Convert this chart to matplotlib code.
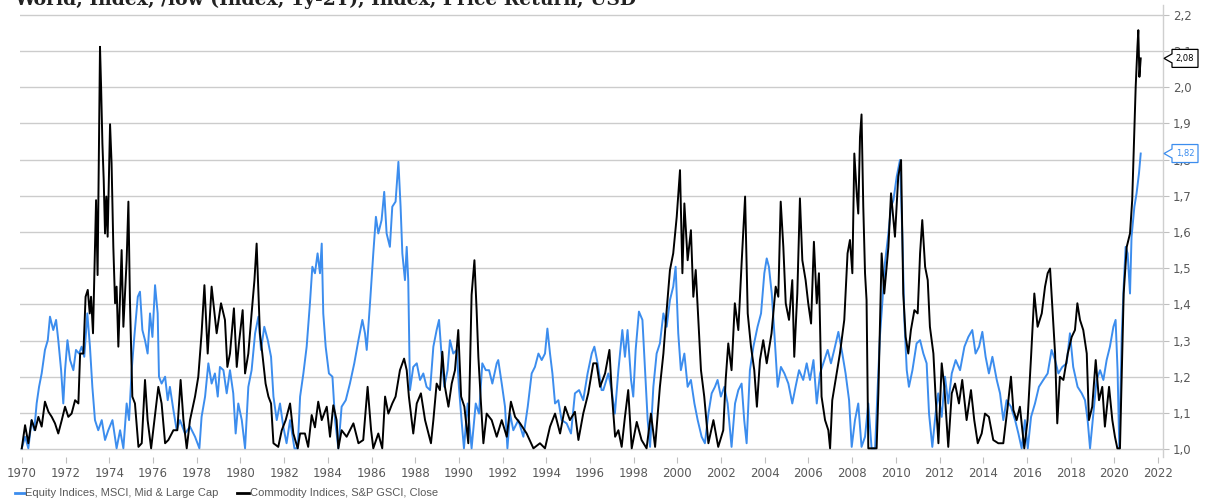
import matplotlib
matplotlib.use("Agg")
import matplotlib.pyplot as plt
from matplotlib.patches import Polygon
from matplotlib.lines import Line2D
import matplotlib.transforms as mtransforms

title = "World, Index, /low (Index, 1y-2Y), Index, Price Return, USD"
series_names = ["Equity Indices, MSCI, Mid & Large Cap", "Commodity Indices, S&P GSCI, Close"]

commodity_years = [
    1969.99, 1970.14, 1970.29, 1970.44, 1970.60, 1970.75, 1970.90, 1971.05, 1971.21, 1971.36,
    1971.51, 1971.66, 1971.82, 1971.97, 1972.12, 1972.27, 1972.43, 1972.58, 1972.66, 1972.81,
    1972.91, 1973.01, 1973.10, 1973.16, 1973.25, 1973.39, 1973.46, 1973.57, 1973.62, 1973.68,
    1973.74, 1973.80, 1973.86, 1973.92, 1974.03, 1974.10, 1974.18, 1974.26, 1974.33, 1974.41,
    1974.56, 1974.64, 1974.79, 1974.87, 1974.94, 1975.05, 1975.17, 1975.33, 1975.48, 1975.63,
    1975.75, 1975.91, 1976.09, 1976.24, 1976.39, 1976.55, 1976.70, 1976.93, 1977.11, 1977.26,
    1977.39, 1977.54, 1977.69, 1977.92, 1978.07, 1978.22, 1978.35, 1978.50, 1978.68, 1978.91,
    1979.11, 1979.29, 1979.40, 1979.52, 1979.70, 1979.83, 1979.93, 1980.10, 1980.21, 1980.36,
    1980.51, 1980.64, 1980.74, 1980.89, 1981.00, 1981.15, 1981.28, 1981.40, 1981.51, 1981.73,
    1981.89, 1982.07, 1982.27, 1982.42, 1982.62, 1982.73, 1982.95, 1983.10, 1983.26, 1983.41,
    1983.56, 1983.72, 1983.95, 1984.10, 1984.25, 1984.40, 1984.48, 1984.63, 1984.86, 1985.17,
    1985.40, 1985.62, 1985.82, 1985.98, 1986.08, 1986.31, 1986.49, 1986.62, 1986.77, 1986.95,
    1987.10, 1987.30, 1987.49, 1987.61, 1987.71, 1987.91, 1988.07, 1988.26, 1988.45, 1988.72,
    1988.83, 1988.98, 1989.13, 1989.24, 1989.36, 1989.52, 1989.67, 1989.82, 1989.97, 1990.10,
    1990.25, 1990.43, 1990.58, 1990.71, 1990.81, 1990.89, 1991.01, 1991.12, 1991.27, 1991.50,
    1991.73, 1991.96, 1992.19, 1992.38, 1992.57, 1992.80, 1993.10, 1993.41, 1993.71, 1993.94,
    1994.17, 1994.40, 1994.63, 1994.86, 1995.08, 1995.31, 1995.47, 1995.69, 1995.92, 1996.15,
    1996.30, 1996.46, 1996.69, 1996.89, 1997.00, 1997.15, 1997.30, 1997.45, 1997.60, 1997.75,
    1997.91, 1998.14, 1998.36, 1998.59, 1998.79, 1998.98, 1999.20, 1999.36, 1999.51, 1999.66,
    1999.81, 1999.97, 2000.12, 2000.23, 2000.32, 2000.47, 2000.62, 2000.73, 2000.84, 2000.96,
    2001.08, 2001.23, 2001.42, 2001.65, 2001.87, 2002.10, 2002.21, 2002.33, 2002.48, 2002.63,
    2002.79, 2002.94, 2003.10, 2003.22, 2003.37, 2003.52, 2003.64, 2003.78, 2003.93, 2004.09,
    2004.31, 2004.50, 2004.62, 2004.73, 2004.85, 2004.96, 2005.11, 2005.26, 2005.35, 2005.49,
    2005.61, 2005.72, 2005.87, 2005.99, 2006.12, 2006.25, 2006.38, 2006.48, 2006.60, 2006.76,
    2006.91, 2006.99, 2007.09, 2007.24, 2007.44, 2007.64, 2007.79, 2007.90, 2008.01, 2008.10,
    2008.21, 2008.28, 2008.36, 2008.43, 2008.51, 2008.59, 2008.66, 2008.74, 2008.97, 2009.12,
    2009.20, 2009.35, 2009.47, 2009.66, 2009.78, 2009.96, 2010.11, 2010.24, 2010.34, 2010.45,
    2010.57, 2010.69, 2010.85, 2011.00, 2011.11, 2011.21, 2011.34, 2011.46, 2011.56, 2011.72,
    2011.82, 2011.95, 2012.10, 2012.22, 2012.40, 2012.56, 2012.71, 2012.89, 2013.04, 2013.24,
    2013.44, 2013.59, 2013.75, 2013.93, 2014.08, 2014.26, 2014.46, 2014.69, 2014.92, 2015.12,
    2015.27, 2015.38, 2015.53, 2015.68, 2015.88, 2016.03, 2016.19, 2016.34, 2016.49, 2016.68,
    2016.83, 2016.95, 2017.06, 2017.18, 2017.29, 2017.39, 2017.51, 2017.67, 2017.87, 2018.05,
    2018.20, 2018.31, 2018.43, 2018.58, 2018.74, 2018.84, 2018.99, 2019.15, 2019.30, 2019.45,
    2019.57, 2019.76, 2019.91, 2020.03, 2020.14, 2020.26, 2020.34, 2020.43, 2020.57, 2020.72,
    2020.82, 2020.92, 2020.98, 2021.06, 2021.10, 2021.15, 2021.21,
]
commodity_values = [
    1.002, 1.066, 1.016, 1.080, 1.052, 1.089, 1.062, 1.131, 1.103, 1.089,
    1.071, 1.043, 1.080, 1.117, 1.089, 1.098, 1.135, 1.126, 1.264, 1.264,
    1.421, 1.440, 1.375, 1.421, 1.320, 1.688, 1.481, 2.112, 2.002, 1.845,
    1.744, 1.596, 1.698, 1.587, 1.898, 1.790, 1.559, 1.403, 1.449, 1.283,
    1.550, 1.338, 1.522, 1.684, 1.412, 1.145, 1.126, 1.006, 1.016, 1.191,
    1.080, 1.002, 1.094, 1.172, 1.126, 1.016, 1.025, 1.052, 1.052, 1.191,
    1.080, 1.002, 1.080, 1.145, 1.200, 1.320, 1.453, 1.264, 1.449, 1.320,
    1.403, 1.357, 1.227, 1.264, 1.389, 1.227, 1.292, 1.384, 1.209, 1.264,
    1.375, 1.467, 1.568, 1.320, 1.264, 1.181, 1.145, 1.126, 1.016, 1.006,
    1.052, 1.080, 1.126, 1.043, 1.002, 1.043, 1.043, 1.006, 1.094, 1.060,
    1.131, 1.080, 1.117, 1.034, 1.121, 1.080, 1.002, 1.052, 1.034, 1.071,
    1.016, 1.025, 1.172, 1.052, 1.002, 1.043, 1.002, 1.145, 1.098, 1.126,
    1.145, 1.218, 1.250, 1.218, 1.145, 1.043, 1.126, 1.154, 1.080, 1.016,
    1.080, 1.181, 1.163, 1.269, 1.172, 1.117, 1.181, 1.218, 1.329, 1.145,
    1.117, 1.016, 1.426, 1.522, 1.384, 1.255, 1.126, 1.016, 1.098, 1.080,
    1.034, 1.080, 1.034, 1.131, 1.089, 1.071, 1.043, 1.002, 1.016, 1.002,
    1.062, 1.098, 1.043, 1.117, 1.080, 1.103, 1.025, 1.098, 1.154, 1.237,
    1.237, 1.172, 1.209, 1.274, 1.154, 1.034, 1.052, 1.006, 1.089, 1.163,
    1.002, 1.075, 1.025, 1.002, 1.098, 1.006, 1.172, 1.264, 1.384, 1.495,
    1.541, 1.642, 1.771, 1.486, 1.679, 1.522, 1.605, 1.421, 1.495, 1.357,
    1.218, 1.145, 1.016, 1.080, 1.006, 1.052, 1.191, 1.292, 1.218, 1.403,
    1.329, 1.513, 1.698, 1.375, 1.283, 1.218, 1.117, 1.246, 1.301, 1.237,
    1.320, 1.449, 1.421, 1.684, 1.559, 1.403, 1.357, 1.467, 1.255, 1.430,
    1.693, 1.522, 1.467, 1.403, 1.347, 1.573, 1.403, 1.486, 1.145, 1.080,
    1.052, 1.002, 1.135, 1.191, 1.264, 1.357, 1.541, 1.578, 1.486, 1.817,
    1.707, 1.651, 1.863, 1.925, 1.670, 1.486, 1.412, 1.002, 1.002, 1.002,
    1.154, 1.541, 1.430, 1.559, 1.707, 1.587, 1.753, 1.799, 1.430, 1.310,
    1.264, 1.329, 1.384, 1.375, 1.541, 1.633, 1.504, 1.467, 1.338, 1.264,
    1.145, 1.016, 1.237, 1.172, 1.006, 1.154, 1.181, 1.126, 1.191, 1.080,
    1.163, 1.080, 1.016, 1.043, 1.098, 1.089, 1.025, 1.016, 1.016, 1.117,
    1.200, 1.108, 1.080, 1.117, 1.002, 1.080, 1.255, 1.430, 1.338, 1.375,
    1.449, 1.486, 1.499, 1.375, 1.264, 1.071, 1.200, 1.191, 1.264, 1.310,
    1.329, 1.403, 1.357, 1.329, 1.264, 1.080, 1.117, 1.246, 1.135, 1.172,
    1.062, 1.172, 1.080, 1.034, 1.002, 1.002, 1.209, 1.430, 1.559, 1.596,
    1.688, 1.882, 2.002, 2.112, 2.158, 2.029, 2.080,
]

equity_years = [
    1969.99, 1970.14, 1970.29, 1970.44, 1970.56, 1970.67, 1970.78, 1970.90, 1971.05, 1971.18,
    1971.28, 1971.43, 1971.56, 1971.66, 1971.79, 1971.89, 1971.97, 1972.08, 1972.20, 1972.35,
    1972.47, 1972.61, 1972.73, 1972.85, 1972.99, 1973.11, 1973.22, 1973.34, 1973.49, 1973.65,
    1973.80, 1973.95, 1974.14, 1974.33, 1974.49, 1974.64, 1974.79, 1974.90, 1975.02, 1975.14,
    1975.30, 1975.40, 1975.51, 1975.63, 1975.75, 1975.86, 1975.97, 1976.09, 1976.21, 1976.27,
    1976.39, 1976.55, 1976.67, 1976.77, 1976.93, 1977.08, 1977.23, 1977.46, 1977.69, 1977.92,
    1978.12, 1978.22, 1978.38, 1978.53, 1978.68, 1978.83, 1978.96, 1979.06, 1979.22, 1979.37,
    1979.52, 1979.67, 1979.78, 1979.90, 1980.06, 1980.21, 1980.36, 1980.51, 1980.67, 1980.82,
    1980.94, 1981.09, 1981.25, 1981.40, 1981.51, 1981.66, 1981.81, 1981.96, 1982.11, 1982.27,
    1982.47, 1982.62, 1982.73, 1982.88, 1983.03, 1983.18, 1983.29, 1983.41, 1983.53, 1983.64,
    1983.72, 1983.79, 1983.90, 1984.05, 1984.21, 1984.33, 1984.48, 1984.63, 1984.82, 1985.01,
    1985.21, 1985.40, 1985.58, 1985.70, 1985.78, 1985.93, 1986.08, 1986.20, 1986.31, 1986.46,
    1986.58, 1986.69, 1986.84, 1986.95, 1987.10, 1987.23, 1987.33, 1987.41, 1987.53, 1987.61,
    1987.68, 1987.76, 1987.91, 1988.07, 1988.22, 1988.37, 1988.52, 1988.68, 1988.83, 1988.98,
    1989.09, 1989.21, 1989.33, 1989.48, 1989.59, 1989.74, 1989.90, 1990.00, 1990.12, 1990.23,
    1990.40, 1990.58, 1990.77, 1990.92, 1991.07, 1991.23, 1991.38, 1991.53, 1991.73, 1991.80,
    1991.96, 1992.11, 1992.22, 1992.34, 1992.49, 1992.72, 1992.95, 1993.15, 1993.33, 1993.48,
    1993.64, 1993.79, 1993.94, 1994.05, 1994.17, 1994.28, 1994.40, 1994.55, 1994.70, 1994.93,
    1995.13, 1995.31, 1995.50, 1995.69, 1995.89, 1996.08, 1996.20, 1996.35, 1996.53, 1996.61,
    1996.84, 1996.99, 1997.14, 1997.30, 1997.48, 1997.60, 1997.72, 1997.88, 1997.98, 1998.09,
    1998.24, 1998.40, 1998.52, 1998.64, 1998.75, 1998.90, 1999.05, 1999.20, 1999.36, 1999.51,
    1999.66, 1999.81, 1999.92, 2000.04, 2000.16, 2000.32, 2000.47, 2000.62, 2000.78, 2000.93,
    2001.11, 2001.26, 2001.42, 2001.57, 2001.72, 2001.84, 2001.99, 2002.15, 2002.30, 2002.48,
    2002.64, 2002.79, 2002.94, 2003.06, 2003.17, 2003.32, 2003.48, 2003.67, 2003.83, 2003.98,
    2004.09, 2004.19, 2004.32, 2004.44, 2004.59, 2004.74, 2004.90, 2005.08, 2005.26, 2005.41,
    2005.57, 2005.76, 2005.92, 2006.07, 2006.23, 2006.38, 2006.53, 2006.73, 2006.88, 2007.03,
    2007.18, 2007.37, 2007.55, 2007.70, 2007.86, 2007.98, 2008.13, 2008.28, 2008.43, 2008.59,
    2008.74, 2008.89, 2009.05, 2009.17, 2009.27, 2009.38, 2009.50, 2009.66, 2009.78, 2009.89,
    2010.04, 2010.19, 2010.30, 2010.39, 2010.50, 2010.60, 2010.76, 2010.95, 2011.11, 2011.26,
    2011.41, 2011.52, 2011.67, 2011.82, 2011.94, 2012.10, 2012.25, 2012.40, 2012.56, 2012.74,
    2012.94, 2013.14, 2013.32, 2013.50, 2013.65, 2013.81, 2013.96, 2014.11, 2014.26, 2014.42,
    2014.62, 2014.77, 2014.92, 2015.07, 2015.27, 2015.46, 2015.61, 2015.76, 2015.91, 2016.04,
    2016.19, 2016.37, 2016.55, 2016.75, 2016.95, 2017.13, 2017.29, 2017.44, 2017.62, 2017.82,
    2017.97, 2018.12, 2018.32, 2018.51, 2018.66, 2018.78, 2018.89, 2019.04, 2019.19, 2019.35,
    2019.50, 2019.65, 2019.80, 2019.96, 2020.06, 2020.15, 2020.23, 2020.34, 2020.43, 2020.52,
    2020.61, 2020.72, 2020.79, 2020.92, 2021.02, 2021.13, 2021.21,
]
equity_values = [
    1.002, 1.034, 1.002, 1.080, 1.052, 1.126, 1.172, 1.209, 1.274, 1.301,
    1.366, 1.329, 1.357, 1.301, 1.218, 1.126, 1.218, 1.301, 1.246, 1.218,
    1.274, 1.264, 1.283, 1.255, 1.375, 1.283, 1.172, 1.080, 1.052, 1.080,
    1.025, 1.052, 1.080, 1.002, 1.052, 1.002, 1.126, 1.080, 1.218, 1.310,
    1.421, 1.435, 1.329, 1.301, 1.264, 1.375, 1.310, 1.453, 1.375, 1.200,
    1.181, 1.200, 1.135, 1.172, 1.108, 1.052, 1.080, 1.043, 1.062, 1.034,
    1.002, 1.089, 1.145, 1.237, 1.181, 1.209, 1.145, 1.227, 1.218, 1.154,
    1.218, 1.154, 1.043, 1.126, 1.080, 1.002, 1.172, 1.218, 1.320, 1.366,
    1.274, 1.338, 1.301, 1.255, 1.145, 1.080, 1.126, 1.062, 1.016, 1.080,
    1.002, 1.002, 1.145, 1.209, 1.283, 1.403, 1.504, 1.486, 1.541, 1.486,
    1.568, 1.375, 1.283, 1.209, 1.200, 1.080, 1.002, 1.117, 1.135, 1.181,
    1.237, 1.301, 1.357, 1.320, 1.274, 1.403, 1.541, 1.642, 1.596, 1.633,
    1.711, 1.596, 1.559, 1.670, 1.684, 1.794, 1.670, 1.541, 1.467, 1.559,
    1.467, 1.163, 1.227, 1.237, 1.191, 1.209, 1.172, 1.163, 1.283, 1.329,
    1.357, 1.255, 1.172, 1.218, 1.301, 1.264, 1.274, 1.172, 1.080, 1.002,
    1.126, 1.002, 1.126, 1.098, 1.237, 1.218, 1.218, 1.181, 1.237, 1.246,
    1.181, 1.117, 1.002, 1.098, 1.052, 1.080, 1.034, 1.117, 1.209, 1.227,
    1.264, 1.246, 1.264, 1.333, 1.264, 1.209, 1.126, 1.135, 1.080, 1.071,
    1.043, 1.154, 1.163, 1.135, 1.209, 1.264, 1.283, 1.237, 1.163, 1.163,
    1.209, 1.163, 1.098, 1.218, 1.329, 1.255, 1.329, 1.191, 1.145, 1.274,
    1.380, 1.357, 1.218, 1.080, 1.006, 1.172, 1.264, 1.292, 1.375, 1.338,
    1.412, 1.449, 1.504, 1.320, 1.218, 1.264, 1.172, 1.191, 1.126, 1.080,
    1.034, 1.016, 1.098, 1.154, 1.172, 1.191, 1.145, 1.172, 1.126, 1.006,
    1.126, 1.163, 1.181, 1.080, 1.016, 1.218, 1.283, 1.338, 1.375, 1.486,
    1.527, 1.504, 1.430, 1.320, 1.172, 1.227, 1.209, 1.181, 1.126, 1.172,
    1.218, 1.191, 1.237, 1.191, 1.246, 1.126, 1.209, 1.246, 1.274, 1.237,
    1.274, 1.324, 1.264, 1.209, 1.135, 1.006, 1.080, 1.126, 1.006, 1.034,
    1.126, 1.002, 1.002, 1.172, 1.310, 1.403, 1.513, 1.596, 1.670, 1.688,
    1.753, 1.799, 1.587, 1.357, 1.218, 1.172, 1.218, 1.292, 1.301, 1.264,
    1.237, 1.098, 1.006, 1.098, 1.154, 1.089, 1.200, 1.126, 1.209, 1.246,
    1.218, 1.283, 1.310, 1.329, 1.264, 1.283, 1.324, 1.255, 1.209, 1.255,
    1.191, 1.154, 1.080, 1.135, 1.117, 1.080, 1.043, 1.002, 1.080, 1.002,
    1.089, 1.126, 1.172, 1.191, 1.209, 1.274, 1.246, 1.209, 1.227, 1.237,
    1.320, 1.227, 1.172, 1.154, 1.135, 1.080, 1.002, 1.098, 1.191, 1.218,
    1.191, 1.246, 1.283, 1.338, 1.357, 1.218, 1.002, 1.310, 1.449, 1.559,
    1.541, 1.430, 1.587, 1.670, 1.707, 1.762, 1.817,
]

y_ticks = [1.0, 1.1, 1.2, 1.3, 1.4, 1.5, 1.6, 1.7, 1.8, 1.9, 2.0, 2.1, 2.2]
y_tick_labels = ["1,0", "1,1", "1,2", "1,3", "1,4", "1,5", "1,6", "1,7", "1,8", "1,9", "2,0", "2,1", "2,2"]
x_ticks = list(range(1970, 2023, 2))
last_labels = ["1,82", "2,08"]

BLUE = "#3c8dee"
BLACK = "#000000"
GRAY_TXT = "#595959"
GRID = "#cccccc"

W, H = 1206, 500
fig = plt.figure(figsize=(W / 100, H / 100), dpi=100)
ax = fig.add_axes([20 / W, 1 - 457 / H, (1163 - 20) / W, (457 - 5) / H])

ax.plot(equity_years, equity_values, color=BLUE, lw=1.4, zorder=3)
ax.plot(commodity_years, commodity_values, color=BLACK, lw=1.4, zorder=4)

ax.set_xlim(1969.908, 2022.23)
ax.set_ylim(0.978, 2.2276)

ax.yaxis.tick_right()
ax.set_yticks(y_ticks)
ax.set_yticklabels(y_tick_labels)
ax.set_xticks(x_ticks)
ax.set_xticklabels([str(x) for x in x_ticks])
ax.tick_params(axis="y", which="both", length=4, width=0.8, color="#bfbfbf",
               labelsize=8.5, labelcolor=GRAY_TXT, pad=3, left=False)
ax.tick_params(axis="x", which="both", length=4, width=0.8, color="#bfbfbf",
               labelsize=8.5, labelcolor=GRAY_TXT, pad=3)
for lab in ax.get_xticklabels() + ax.get_yticklabels():
    lab.set_family("DejaVu Sans")

ax.grid(axis="y", color=GRID, lw=1.0, zorder=0)
ax.grid(axis="x", visible=False)
for s in ["top", "left", "bottom"]:
    ax.spines[s].set_visible(False)
ax.spines["right"].set_color("#cfcfcf")
ax.spines["right"].set_linewidth(1.0)

# value call-outs on the right axis (they sit over the tick labels, as in the reference)
trans = mtransforms.blended_transform_factory(fig.transFigure, ax.transData)
half_h = 9 / 361.7
for val, lab, col in [(commodity_values[-1], last_labels[1], BLACK), (equity_values[-1], last_labels[0], BLUE)]:
    x0, x1, xt = 1164 / W, 1172 / W, 1198 / W
    tri = 4.5 / 361.7
    verts = [(x0, val), (x1, val + tri), (x1, val + half_h), (xt, val + half_h),
             (xt, val - half_h), (x1, val - half_h), (x1, val - tri)]
    poly = Polygon(verts, closed=True, transform=trans, facecolor="white",
                   edgecolor=col, lw=0.9, clip_on=False, zorder=10)
    fig.add_artist(poly)
    fig.text((x1 + xt) / 2, val, lab, transform=trans, fontsize=6, color=col,
             ha="center", va="center", zorder=11)

# title (cut off at the top as in the reference)
fig.text(14 / W, 1 - 5 / H, title, fontsize=13.5, fontweight="bold",
         family="DejaVu Serif", color="#222222", ha="left", va="baseline")

# legend
ly = 1 - 493 / H
fig.add_artist(Line2D([15 / W, 25 / W], [ly, ly], color=BLUE, lw=2, transform=fig.transFigure))
fig.text(25 / W, ly, series_names[0], fontsize=8, family="Liberation Sans",
         color=GRAY_TXT, ha="left", va="center")
fig.add_artist(Line2D([237 / W, 249 / W], [ly, ly], color=BLACK, lw=2, transform=fig.transFigure))
fig.text(250 / W, ly, series_names[1], fontsize=8, family="Liberation Sans",
         color=GRAY_TXT, ha="left", va="center")

fig.savefig("out.png", dpi=100)
